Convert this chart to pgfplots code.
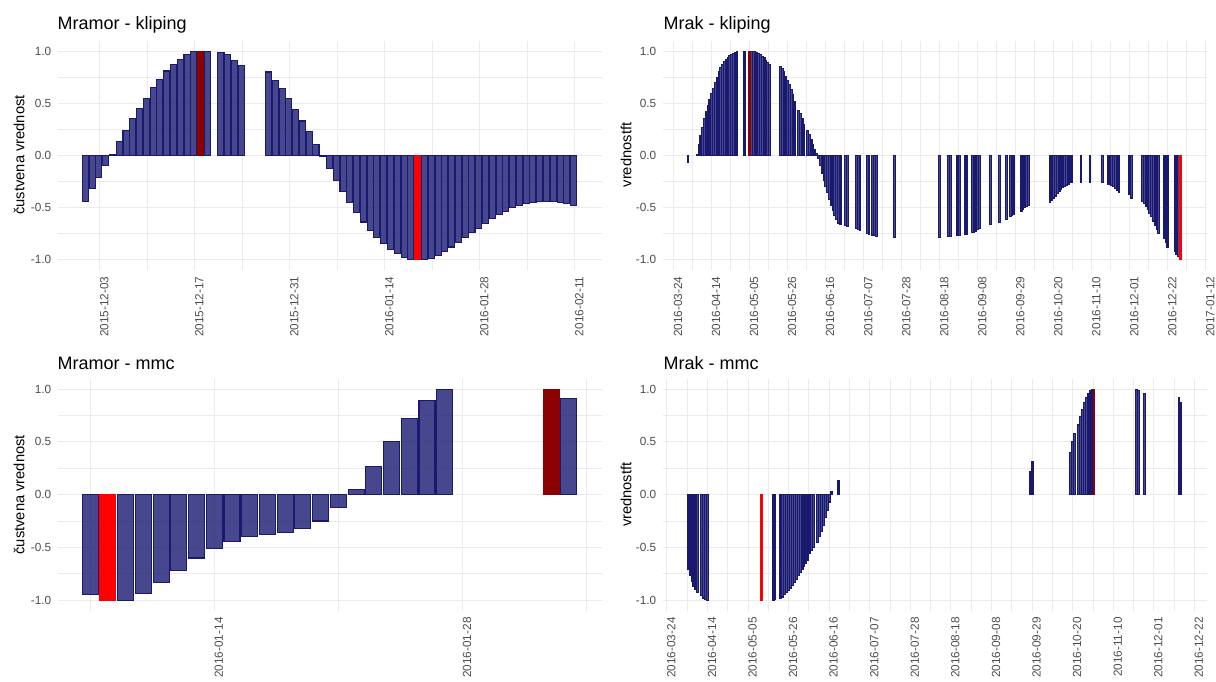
\documentclass[border=0pt]{standalone}
\usepackage{fontspec}
\setmainfont{Liberation Sans}
\usepackage{pgfplots}
\usepackage{pgfplotstable}
\pgfplotsset{compat=1.18}

\definecolor{navybar}{HTML}{191970}
\definecolor{darkredbar}{HTML}{8B0000}
\definecolor{redbar}{HTML}{FF0000}
\definecolor{gridgray}{HTML}{EBEBEB}
\definecolor{tickgray}{HTML}{4D4D4D}

\newcommand{\tickfont}{\fontsize{11.8}{14}\selectfont}
\newcommand{\titlefont}{\fontsize{18}{21}\selectfont}
\newcommand{\labfont}{\fontsize{14.7}{17}\selectfont}

\pgfplotsset{
  panel/.style={
    scale only axis, width=544pt,
    ymin=-1.1, ymax=1.1,
    ytick={-1,-0.5,0,0.5,1},
    yticklabels={-1.0,-0.5,0.0,0.5,1.0},
    minor ytick={-0.75,-0.25,0.25,0.75},
    grid=both,
    major grid style={draw=gridgray, line width=1pt},
    minor grid style={draw=gridgray, line width=0.8pt},
    axis line style={draw=none},
    major tick length=0pt, minor tick length=0pt,
    tick style={draw=none},
    ticklabel style={font=\tickfont, text=tickgray, inner sep=0pt},
    yticklabel style={anchor=east, xshift=-6pt},
    xticklabel style={xshift=4.5pt, yshift=-6.5pt, rotate=90, anchor=east},
  },
  navy/.style={ybar, bar width=0.9, bar shift=0pt, fill=navybar, fill opacity=0.8,
    draw=navybar, line width=1.1pt},
  hot/.style={ybar, bar width=0.9, bar shift=0pt, fill=#1, draw=#1, line width=1.1pt},
}

% Mramor - kliping (x = day slot, 2015-12-03 at 3.15)
\pgfplotstableread{
x y
1 -0.44
2 -0.32
3 -0.215
4 -0.10
5 0.01
6 0.13
7 0.24
8 0.35
9 0.45
10 0.55
11 0.65
12 0.73
13 0.81
14 0.875
15 0.92
16 0.965
17 0.995
19 1.0
21 0.99
22 0.965
23 0.915
24 0.865
28 0.80
29 0.72
30 0.645
31 0.545
32 0.44
33 0.33
34 0.225
35 0.105
36 -0.015
37 -0.13
38 -0.24
39 -0.35
40 -0.45
41 -0.545
42 -0.64
43 -0.72
44 -0.79
45 -0.85
46 -0.90
47 -0.94
48 -0.98
49 -1.0
51 -1.0
52 -0.99
53 -0.96
54 -0.92
55 -0.88
56 -0.835
57 -0.79
58 -0.745
59 -0.70
60 -0.655
61 -0.61
62 -0.57
63 -0.535
64 -0.505
65 -0.48
66 -0.465
67 -0.45
68 -0.44
69 -0.44
70 -0.44
71 -0.455
72 -0.465
73 -0.48
}\mramorklip

% Mrak - kliping (x = days after 2016-03-24)
\pgfplotstableread{
x y
8 -0.07
13 0.01
14 0.10
15 0.19
16 0.27
17 0.35
18 0.42
19 0.48
20 0.54
21 0.59
22 0.64
23 0.70
24 0.75
25 0.80
26 0.84
27 0.87
28 0.90
29 0.92
30 0.94
31 0.955
32 0.97
33 0.98
34 0.99
35 0.995
39 1.0
43 1.0
44 1.0
45 1.0
46 0.99
47 0.98
48 0.965
49 0.95
50 0.935
51 0.915
52 0.895
53 0.875
59 0.85
60 0.83
61 0.80
62 0.76
63 0.72
64 0.68
65 0.63
66 0.58
67 0.52
69 0.43
70 0.40
71 0.35
72 0.30
74 0.24
75 0.20
76 0.15
77 0.10
78 0.06
79 0.015
80 -0.03
81 -0.10
82 -0.17
83 -0.24
84 -0.30
85 -0.36
86 -0.42
87 -0.48
88 -0.53
89 -0.58
90 -0.62
91 -0.65
92 -0.66
95 -0.675
96 -0.68
101 -0.705
102 -0.715
103 -0.725
107 -0.75
108 -0.755
110 -0.765
111 -0.77
112 -0.775
122 -0.785
147 -0.785
152 -0.78
153 -0.78
157 -0.77
158 -0.77
161 -0.76
162 -0.755
165 -0.745
166 -0.74
167 -0.73
168 -0.715
169 -0.70
175 -0.66
180 -0.645
184 -0.615
186 -0.59
187 -0.58
188 -0.57
192 -0.535
193 -0.52
194 -0.505
195 -0.49
196 -0.48
208 -0.45
209 -0.43
210 -0.41
211 -0.39
212 -0.37
213 -0.35
214 -0.33
215 -0.31
216 -0.30
217 -0.285
218 -0.275
219 -0.265
220 -0.26
225 -0.26
230 -0.26
237 -0.265
240 -0.275
241 -0.28
242 -0.29
243 -0.30
244 -0.32
245 -0.34
246 -0.355
252 -0.38
253 -0.41
259 -0.44
260 -0.46
261 -0.49
262 -0.52
263 -0.555
264 -0.59
265 -0.63
266 -0.67
267 -0.71
268 -0.75
271 -0.80
272 -0.84
273 -0.88
277 -0.92
278 -0.95
279 -0.97
}\mrakklip

% Mramor - mmc (x = days after 2016-01-07)
\pgfplotstableread{
x y
0 -0.945
2 -1.0
3 -0.935
4 -0.83
5 -0.715
6 -0.60
7 -0.51
8 -0.44
9 -0.40
10 -0.38
11 -0.36
12 -0.325
13 -0.25
14 -0.125
15 0.05
16 0.27
17 0.50
18 0.72
19 0.895
20 1.0
27 0.915
}\mramormmc

% Mrak - mmc (x = days after 2016-03-24)
\pgfplotstableread{
x y
11 -0.71
12 -0.77
13 -0.82
14 -0.87
15 -0.90
16 -0.93
18 -0.96
19 -0.98
20 -0.99
21 -1.0
55 -1.0
56 -0.995
59 -0.98
60 -0.97
61 -0.95
62 -0.93
63 -0.91
64 -0.885
65 -0.86
66 -0.83
67 -0.80
68 -0.77
69 -0.74
70 -0.71
71 -0.68
72 -0.65
73 -0.62
74 -0.56
75 -0.53
76 -0.50
78 -0.45
79 -0.40
80 -0.35
81 -0.29
82 -0.22
83 -0.15
84 -0.07
85 0.03
89 0.13
188 0.22
189 0.31
209 0.40
210 0.50
211 0.58
213 0.66
214 0.74
215 0.81
216 0.87
217 0.92
218 0.96
219 0.99
220 1.0
243 1.0
244 0.99
247 0.96
265 0.92
266 0.875
}\mrakmmc

\begin{document}
\begin{tikzpicture}
\path[use as bounding box] (0pt,0pt) rectangle (1216pt,681pt);

% top left
\begin{axis}[panel, at={(57.5pt,411.1pt)}, anchor=south west, height=229.1pt,
  xmin=-3.1, xmax=77.1,
  xtick={3.15,17.15,31.15,45.15,59.15,73.15},
  xticklabels={2015-12-03,2015-12-17,2015-12-31,2016-01-14,2016-01-28,2016-02-11},
  minor xtick={10.15,24.15,38.15,52.15,66.15}]
\addplot[navy] table[x=x,y=y] {\mramorklip};
\addplot[hot=darkredbar] coordinates {(18,1.0)};
\addplot[hot=redbar] coordinates {(50,-1.0)};
\end{axis}

% top right
\begin{axis}[panel, at={(662.5pt,411.1pt)}, anchor=south west, height=229.1pt,
  xmin=-6.15, xmax=294.4,
  xtick={0,21,...,294},
  xticklabels={2016-03-24,2016-04-14,2016-05-05,2016-05-26,2016-06-16,2016-07-07,2016-07-28,2016-08-18,2016-09-08,2016-09-29,2016-10-20,2016-11-10,2016-12-01,2016-12-22,2017-01-12},
  minor xtick={10.5,31.5,...,283.5}]
\addplot[navy] table[x=x,y=y] {\mrakklip};
\addplot[hot=darkredbar] coordinates {(42,1.0)};
\addplot[hot=redbar] coordinates {(280,-1.0)};
\end{axis}

% bottom left
\begin{axis}[panel, at={(57.5pt,70.3pt)}, anchor=south west, height=232.1pt,
  xmin=-1.845, xmax=28.845,
  xtick={7,21},
  xticklabels={2016-01-14,2016-01-28},
  minor xtick={0,14,28}]
\addplot[navy] table[x=x,y=y] {\mramormmc};
\addplot[hot=redbar] coordinates {(1,-1.0)};
\addplot[hot=darkredbar] coordinates {(26,1.0)};
\end{axis}

% bottom right
\begin{axis}[panel, at={(662.5pt,70.3pt)}, anchor=south west, height=232.1pt,
  xmin=-2.25, xmax=279.25,
  xtick={0,21,...,273},
  xticklabels={2016-03-24,2016-04-14,2016-05-05,2016-05-26,2016-06-16,2016-07-07,2016-07-28,2016-08-18,2016-09-08,2016-09-29,2016-10-20,2016-11-10,2016-12-01,2016-12-22},
  minor xtick={10.5,31.5,...,262.5}]
\addplot[navy] table[x=x,y=y] {\mrakmmc};
\addplot[hot=redbar] coordinates {(49,-1.0)};
\addplot[hot=darkredbar] coordinates {(221,1.0)};
\end{axis}

% titles and axis titles
\node[anchor=base west, font=\titlefont, inner sep=0pt] at (57.5pt,651.7pt) {Mramor - kliping};
\node[anchor=base west, font=\titlefont, inner sep=0pt] at (663.5pt,651.7pt) {Mrak - kliping};
\node[anchor=base west, font=\titlefont, inner sep=0pt] at (57.5pt,311.7pt) {Mramor - mmc};
\node[anchor=base west, font=\titlefont, inner sep=0pt] at (663.5pt,311.7pt) {Mrak - mmc};
\node[rotate=90, font=\labfont, inner sep=0pt] at (19pt,526pt) {čustvena vrednost};
\node[rotate=90, font=\labfont, inner sep=0pt] at (626pt,526pt) {vrednostft};
\node[rotate=90, font=\labfont, inner sep=0pt] at (19pt,186.3pt) {čustvena vrednost};
\node[rotate=90, font=\labfont, inner sep=0pt] at (626pt,186.3pt) {vrednostft};
\end{tikzpicture}
\end{document}
